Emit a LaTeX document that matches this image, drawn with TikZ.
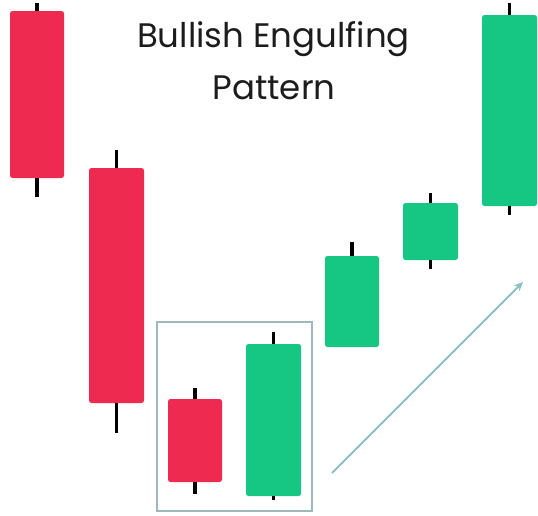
\documentclass[tikz,border=0pt]{standalone}
\usepackage{fontspec}
\setmainfont{Poppins}
\usetikzlibrary{arrows.meta}
\definecolor{bull}{HTML}{16C784}
\definecolor{bear}{HTML}{EF2A50}
\definecolor{frame}{HTML}{9DB9BE}
\definecolor{trend}{HTML}{8EC0C2}
\definecolor{ink}{HTML}{1C1C1C}
\tikzset{
  body/.style={rectangle, rounded corners=2.5pt, inner sep=0pt, minimum width=54pt},
  bearbody/.style={body, fill=bear},
  bullbody/.style={body, fill=bull},
  wick/.style={line width=3.6pt, black},
  titletext/.style={font=\fontsize{34}{40}\selectfont, text=ink, inner sep=0pt, anchor=base},
}
\begin{document}
\begin{tikzpicture}[x=1pt,y=-1pt]
\useasboundingbox (0,0) rectangle (538,515);
% title
\node[titletext] (t1) at (273.5,47) {Bullish Engulfing};
\node[titletext] (t2) at (274,99.5) {Pattern};
% frame around engulfing pair
\node[draw=frame, line width=1.4pt, rectangle, inner sep=0pt, minimum width=155pt, minimum height=189pt] (frm) at (234.5,416.5) {};
% candles
\node[bearbody, minimum height=167pt] (c1) at (37,94.5) {};
\node[bearbody, minimum width=55pt, minimum height=235pt] (c2) at (116.5,285.5) {};
\node[bearbody, minimum height=83pt] (c3) at (195,440.5) {};
\node[bullbody, minimum width=55pt, minimum height=152pt] (c4) at (273.5,420) {};
\node[bullbody, minimum height=91pt] (c5) at (352,301.5) {};
\node[bullbody, minimum width=55pt, minimum height=57pt] (c6) at (430.5,231.5) {};
\node[bullbody, minimum width=55pt, minimum height=191pt] (c7) at (509.5,110.5) {};
% wick ends
\coordinate (w1t) at (37,3);   \coordinate (w1b) at (37,197);
\coordinate (w2t) at (116.5,150); \coordinate (w2b) at (116.5,433);
\coordinate (w3t) at (195,388); \coordinate (w3b) at (195,494);
\coordinate (w4t) at (273.5,332); \coordinate (w4b) at (273.5,500);
\coordinate (w5t) at (352,242);
\coordinate (w6t) at (430.5,193); \coordinate (w6b) at (430.5,269);
\coordinate (w7t) at (509.5,3); \coordinate (w7b) at (509.5,215);
% wicks
\draw[wick] (c1.north) -- (w1t); \draw[wick] (c1.south) -- (w1b);
\draw[wick] (c2.north) -- (w2t); \draw[wick] (c2.south) -- (w2b);
\draw[wick] (c3.north) -- (w3t); \draw[wick] (c3.south) -- (w3b);
\draw[wick] (c4.north) -- (w4t); \draw[wick] (c4.south) -- (w4b);
\draw[wick] (c5.north) -- (w5t);
\draw[wick] (c6.north) -- (w6t); \draw[wick] (c6.south) -- (w6b);
\draw[wick] (c7.north) -- (w7t); \draw[wick] (c7.south) -- (w7b);
% trend arrow
\coordinate (a0) at (332,473);
\coordinate (a1) at (523,282);
\draw[trend, line width=1.8pt, -{Stealth[length=9pt, width=8pt]}] (a0) -- (a1);
\end{tikzpicture}
\end{document}
